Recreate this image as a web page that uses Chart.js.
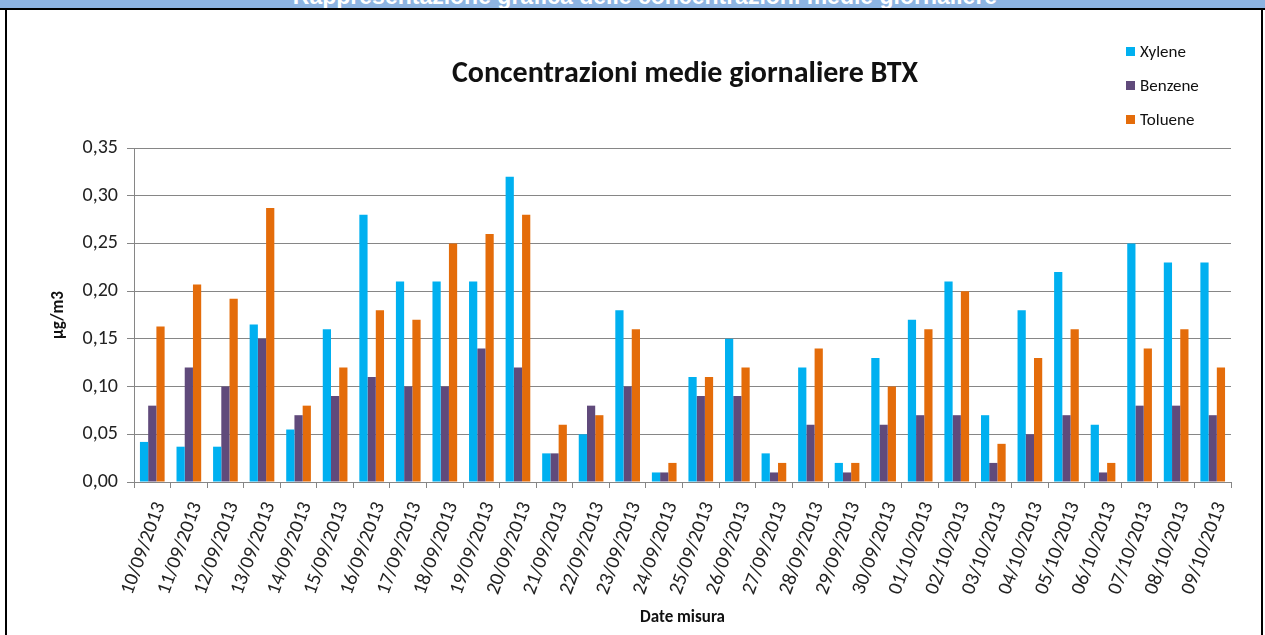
<!DOCTYPE html>
<html lang="it">
<head>
<meta charset="UTF-8">
<title>Concentrazioni medie giornaliere BTX</title>
<script src="https://cdn.jsdelivr.net/npm/chart.js"></script>
<style>
  html, body { margin: 0; padding: 0; background: #fff; }
  body { width: 1265px; height: 635px; position: relative; overflow: hidden; font-family: Carlito, Lato, sans-serif; }
  #chart { position: absolute; left: 0; top: 0; }
  .hdr { position: absolute; left: 0; top: 0; width: 1265px; height: 8px; background: #8db4e2; overflow: hidden; }
  .hdr span { position: absolute; left: 0; width: 1290px; top: -17px; text-align: center; color: #fff;
              font: bold 23px "Liberation Sans Narrow", "Liberation Sans", sans-serif; white-space: nowrap; }
  .line { position: absolute; background: #000; }
  #title { position: absolute; left: 335px; width: 700px; top: 53px; text-align: center;
           font-weight: bold; font-size: 30px; color: #111; white-space: nowrap; }
  #legend { position: absolute; left: 1126px; top: 41px; font-size: 17px; color: #111; }
  #legend div { height: 34px; line-height: 22px; white-space: nowrap; }
  #legend i { display: inline-block; width: 9px; height: 9px; margin-right: 5px; vertical-align: 1px; }
</style>
</head>
<body>
<canvas id="chart" width="1265" height="635"></canvas>
<div class="hdr"><span>Rappresentazione grafica delle concentrazioni medie giornaliere</span></div>
<div class="line" style="left:0;top:8px;width:1265px;height:2px"></div>
<div class="line" style="left:5px;top:8px;width:2px;height:627px"></div>
<div class="line" style="left:1261px;top:8px;width:2px;height:627px"></div>
<div id="title">Concentrazioni medie giornaliere BTX</div>
<div id="legend"></div>
<script>
const dates = ['10/09/2013', '11/09/2013', '12/09/2013', '13/09/2013', '14/09/2013', '15/09/2013',
  '16/09/2013', '17/09/2013', '18/09/2013', '19/09/2013', '20/09/2013', '21/09/2013', '22/09/2013',
  '23/09/2013', '24/09/2013', '25/09/2013', '26/09/2013', '27/09/2013', '28/09/2013', '29/09/2013',
  '30/09/2013', '01/10/2013', '02/10/2013', '03/10/2013', '04/10/2013', '05/10/2013', '06/10/2013',
  '07/10/2013', '08/10/2013', '09/10/2013'];

const xylene = [0.042, 0.037, 0.037, 0.165, 0.055, 0.16, 0.28, 0.21, 0.21, 0.21, 0.32, 0.03, 0.05, 0.18, 0.01,
  0.11, 0.15, 0.03, 0.12, 0.02, 0.13, 0.17, 0.21, 0.07, 0.18, 0.22, 0.06, 0.25, 0.23, 0.23];
const benzene = [0.08, 0.12, 0.10, 0.15, 0.07, 0.09, 0.11, 0.10, 0.10, 0.14, 0.12, 0.03, 0.08, 0.10, 0.01,
  0.09, 0.09, 0.01, 0.06, 0.01, 0.06, 0.07, 0.07, 0.02, 0.05, 0.07, 0.01, 0.08, 0.08, 0.07];
const toluene = [0.163, 0.207, 0.192, 0.287, 0.08, 0.12, 0.18, 0.17, 0.25, 0.26, 0.28, 0.06, 0.07, 0.16, 0.02,
  0.11, 0.12, 0.02, 0.14, 0.02, 0.10, 0.16, 0.20, 0.04, 0.13, 0.16, 0.02, 0.14, 0.16, 0.12];

const seriesNames = ['Xylene', 'Benzene', 'Toluene'];
const seriesColors = ['#00b0f0', '#604a7b', '#e46c0a'];
const seriesData = [xylene, benzene, toluene];

const yMin = 0, yMax = 0.35, yStep = 0.05;
const yTitle = 'µg/m3';
const xTitle = 'Date misura';

const baseFont = 'Carlito, Lato, sans-serif';
const gridColor = '#868686';

// legend (html, same order as the datasets)
const legendBox = document.getElementById('legend');
seriesNames.forEach((name, i) => {
  const row = document.createElement('div');
  row.innerHTML = '<i style="background:' + seriesColors[i] + '"></i>' + name;
  legendBox.appendChild(row);
});

const ctx = document.getElementById('chart').getContext('2d');
new Chart(ctx, {
  type: 'bar',
  data: {
    labels: dates,
    datasets: seriesNames.map((name, i) => ({
      label: name,
      data: seriesData[i],
      backgroundColor: seriesColors[i],
      borderWidth: 0,
      categoryPercentage: 0.675,
      barPercentage: 1.0
    }))
  },
  options: {
    responsive: false,
    animation: false,
    layout: { padding: { left: 7, right: 34, top: 148, bottom: 0 } },
    plugins: {
      legend: { display: false },
      title: { display: false },
      tooltip: { enabled: false }
    },
    scales: {
      x: {
        afterFit: axis => { axis.height = 153; },
        grid: { display: true, drawOnChartArea: false, drawTicks: true, tickLength: 6, color: gridColor, offset: true },
        border: { display: true, color: gridColor, width: 1 },
        ticks: {
          minRotation: 70, maxRotation: 70, autoSkip: false,
          padding: 11, labelOffset: 8,
          color: '#222', font: { family: baseFont, size: 20 }
        },
        title: {
          display: true, text: xTitle, color: '#111',
          font: { family: baseFont, size: 17, weight: 'bold' },
          padding: { top: 0, bottom: 7 }
        }
      },
      y: {
        min: yMin, max: yMax,
        afterFit: axis => { axis.width = 127; },
        grid: { color: gridColor, lineWidth: 1, tickLength: 7 },
        border: { display: true, color: gridColor, width: 1 },
        ticks: {
          stepSize: yStep, padding: 9,
          color: '#222', font: { family: baseFont, size: 20 },
          callback: v => v.toFixed(2).replace('.', ',')
        },
        title: {
          display: true, text: yTitle, color: '#111',
          font: { family: baseFont, size: 17, weight: 'bold' },
          padding: { top: 42, bottom: 0 }
        }
      }
    }
  }
});
</script>
</body>
</html>
